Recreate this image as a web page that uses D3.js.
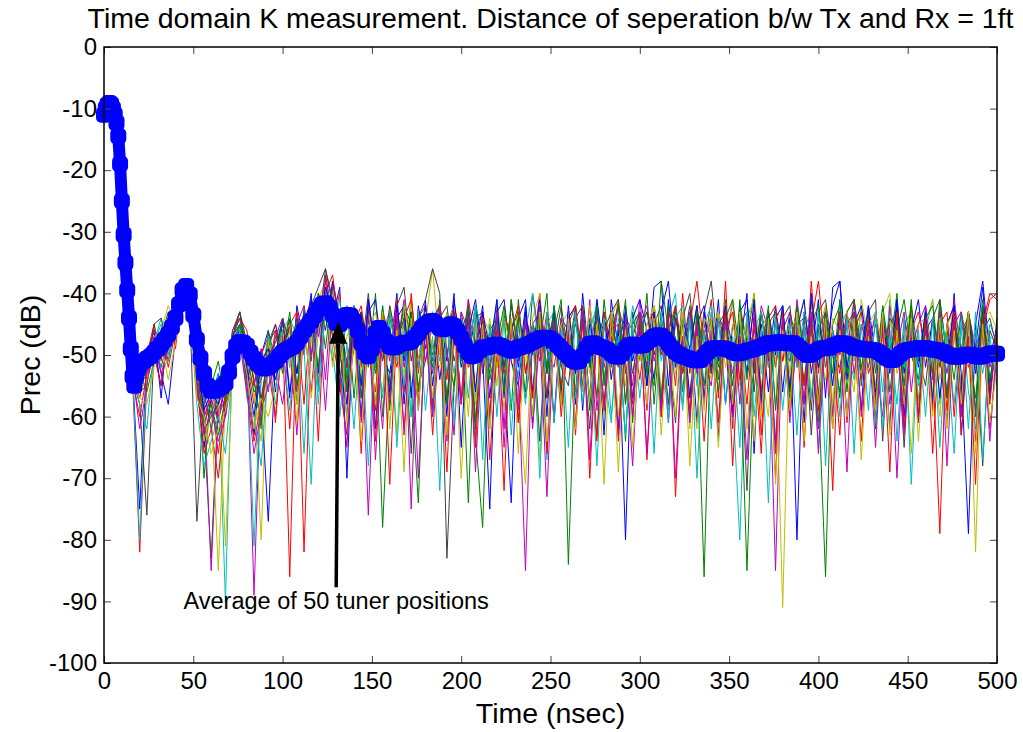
<!DOCTYPE html>
<html><head><meta charset="utf-8">
<script src="https://cdn.jsdelivr.net/npm/d3@7/dist/d3.min.js"></script>
<style>html,body{margin:0;padding:0;background:#fff;}svg{display:block;}</style>
</head><body>
<script>
// ---------- data ----------
const titleText = "Time domain K measurement. Distance of seperation b/w Tx and Rx = 1ft";
const xLabel = "Time (nsec)";
const yLabel = "Prec (dB)";
const xTicks = [0,50,100,150,200,250,300,350,400,450,500];
const yTicks = [0,-10,-20,-30,-40,-50,-60,-70,-80,-90,-100];
const annotationText = "Average of 50 tuner positions";
const arrowFrom = [130, -87.7];
const arrowTo = [131.2, -44.6];

// trace sampling: t=16, then 20..496 every 4 ns, then 500
const traceStart = 16, traceStep = 4, traceEnd = 500;
const traceColors = ["#0000ff","#008000","#ff0000","#00bfbf","#bf00bf","#bfbf00","#404040",
                     "#0000ff","#008000","#ff0000","#00bfbf","#bf00bf","#bfbf00","#404040",
                     "#0000ff","#008000","#ff0000","#00bfbf","#bf00bf","#bfbf00"];

const tr01 = [-53,
 -75,-50,-46,-57,-44,-43,-38,-40,-49,-58,
 -55,-61,-54,-47,-45,-53,-63,-50,-46,-56,
 -44,-57,-42,-48,-40,-53,-37,-44,-39,-70,
 -42,-55,-41,-62,-43,-50,-40,-58,-44,-52,
 -41,-59,-44,-51,-40,-65,-43,-49,-42,-57,
 -45,-53,-74,-44,-41,-56,-43,-60,-42,-51,
 -44,-58,-40,-52,-45,-63,-41,-49,-43,-57,
 -46,-52,-39,-38,-55,-42,-50,-44,-61,-43,
 -53,-41,-58,-45,-49,-40,-66,-43,-51,-42,
 -56,-44,-80,-43,-50,-41,-57,-39,-38,-54,
 -44,-59,-42,-50,-45,-62,-41,-53,-43,-58,
 -42,-51,-44,-57,-40,-63,-45,-49,-39,-55,
 -44];
const tr02 = [-52,
 -56,-55,-45,-50,-48,-42,-38,-39,-53,-62,
 -83,-57,-55,-47,-43,-49,-54,-61,-48,-46,
 -53,-44,-58,-42,-51,-40,-49,-39,-56,-42,
 -57,-43,-52,-40,-60,-44,-49,-42,-55,-74,
 -43,-51,-41,-57,-44,-50,-42,-63,-78,-45,
 -52,-43,-59,-41,-53,-45,-48,-40,-61,-44,
 -50,-42,-55,-44,-57,-41,-52,-45,-64,-43,
 -51,-40,-58,-44,-49,-42,-56,-43,-50,-86,
 -44,-54,-41,-60,-43,-48,-40,-57,-45,-52,
 -42,-59,-44,-51,-41,-56,-86,-45,-42,-53,
 -41,-55,-43,-62,-45,-49,-40,-58,-44,-51,
 -43,-57,-41,-50,-46,-60,-43,-52,-41,-56,
 -47];
const tr03 = [-54,
 -82,-54,-50,-46,-52,-46,-38,-41,-52,-60,
 -57,-66,-56,-49,-45,-51,-58,-50,-47,-61,
 -46,-86,-43,-50,-41,-55,-37,-45,-40,-56,
 -45,-52,-42,-64,-44,-51,-41,-56,-40,-53,
 -43,-58,-42,-50,-44,-57,-41,-48,-45,-60,
 -42,-53,-45,-61,-43,-50,-40,-57,-44,-52,
 -46,-56,-42,-51,-64,-44,-49,-41,-58,-45,
 -43,-59,-42,-50,-45,-55,-40,-53,-44,-49,
 -41,-57,-38,-62,-44,-51,-42,-56,-43,-52,
 -45,-50,-42,-58,-38,-53,-44,-49,-63,-43,
 -41,-54,-45,-60,-43,-50,-46,-57,-42,-61,
 -44,-51,-79,-45,-42,-56,-43,-50,-46,-41,
 -40];
const tr04 = [-53,
 -80,-52,-48,-44,-50,-46,-38,-40,-51,-57,
 -60,-55,-90,-47,-44,-55,-50,-58,-53,-47,
 -45,-52,-44,-49,-42,-56,-39,-46,-41,-53,
 -43,-51,-46,-58,-42,-50,-44,-55,-41,-52,
 -44,-60,-43,-53,-46,-49,-42,-57,-45,-51,
 -41,-52,-44,-58,-46,-50,-43,-67,-42,-55,
 -45,-57,-43,-49,-41,-53,-61,-44,-50,-42,
 -47,-54,-42,-51,-44,-40,-58,-43,-55,-45,
 -42,-50,-45,-57,-80,-44,-41,-53,-43,-58,
 -45,-51,-42,-55,-44,-50,-43,-60,-41,-49,
 -54,-42,-48,-44,-56,-41,-64,-45,-43,-55,
 -46,-41,-58,-45,-50,-43,-56,-62,-44,-47,
 -48];
const tr05 = [-52,
 -54,-51,-46,-49,-44,-48,-38,-41,-49,-57,
 -85,-59,-56,-46,-44,-50,-89,-53,-48,-45,
 -52,-45,-56,-43,-50,-41,-54,-38,-46,-51,
 -44,-57,-42,-50,-62,-43,-49,-41,-75,-44,
 -42,-53,-45,-58,-43,-50,-41,-56,-44,-52,
 -43,-62,-41,-51,-45,-57,-42,-49,-60,-44,
 -52,-43,-56,-41,-59,-45,-50,-42,-47,-55,
 -41,-52,-44,-58,-42,-49,-45,-57,-43,-51,
 -55,-43,-49,-41,-58,-45,-52,-42,-46,-85,
 -43,-55,-41,-50,-44,-57,-42,-60,-45,-49,
 -41,-53,-44,-51,-60,-42,-49,-43,-56,-45,
 -42,-54,-45,-57,-41,-50,-44,-59,-42,-52,
 -48];
const tr06 = [-53,
 -56,-51,-51,-46,-49,-45,-39,-40,-52,-59,
 -58,-85,-57,-50,-46,-52,-56,-80,-47,-53,
 -46,-51,-58,-43,-47,-41,-38,-44,-50,-43,
 -47,-55,-43,-50,-56,-42,-48,-53,-41,-57,
 -45,-36,-50,-43,-56,-45,-60,-43,-52,-44,
 -55,-42,-51,-57,-71,-44,-40,-53,-45,-58,
 -43,-50,-56,-42,-48,-60,-44,-41,-55,-47,
 -44,-51,-42,-56,-45,-49,-43,-62,-42,-50,
 -54,-43,-47,-41,-55,-46,-40,-52,-60,-43,
 -44,-53,-45,-41,-57,-46,-42,-58,-44,-50,
 -56,-41,-47,-55,-43,-40,-53,-48,-42,-58,
 -45,-41,-54,-48,-42,-57,-45,-82,-44,-43,
 -46];
const tr07 = [-54,
 -58,-76,-49,-46,-51,-44,-38,-42,-77,-56,
 -62,-56,-54,-46,-43,-48,-52,-58,-49,-45,
 -50,-44,-53,-47,-41,-46,-36,-42,-50,-55,
 -42,-50,-40,-52,-45,-57,-42,-39,-51,-44,
 -41,-36,-40,-83,-55,-43,-50,-42,-53,-46,
 -44,-52,-42,-49,-56,-40,-48,-57,-43,-52,
 -55,-44,-42,-52,-46,-58,-43,-41,-53,-47,
 -43,-55,-45,-42,-50,-61,-44,-40,-52,-43,
 -38,-50,-44,-55,-42,-48,-56,-43,-49,-65,
 -44,-42,-52,-45,-59,-43,-41,-50,-56,-44,
 -47,-53,-43,-41,-64,-45,-43,-52,-42,-50,
 -55,-44,-41,-51,-45,-57,-43,-49,-68,-46,
 -49];
const tr08 = [-52,
 -52,-49,-48,-53,-58,-47,-39,-42,-55,-65,
 -57,-53,-60,-51,-47,-54,-50,-57,-77,-50,
 -44,-56,-49,-43,-45,-41,-46,-38,-44,-52,
 -46,-55,-43,-41,-50,-53,-44,-42,-57,-42,
 -49,-43,-54,-45,-42,-52,-46,-41,-50,-75,
 -43,-41,-51,-55,-43,-50,-41,-53,-45,-56,
 -44,-42,-59,-45,-50,-43,-54,-46,-80,-44,
 -41,-46,-54,-43,-38,-51,-44,-57,-45,-42,
 -52,-44,-49,-60,-43,-41,-53,-45,-56,-44,
 -42,-56,-46,-41,-53,-45,-50,-42,-38,-52,
 -45,-42,-50,-56,-43,-51,-42,-58,-46,-41,
 -52,-44,-57,-45,-42,-53,-79,-45,-38,-50,
 -46];
const tr09 = [-53,
 -53,-56,-51,-47,-43,-46,-38,-40,-50,-70,
 -55,-51,-58,-54,-45,-48,-54,-62,-46,-51,
 -44,-48,-53,-43,-47,-40,-43,-51,-45,-56,
 -49,-43,-51,-46,-78,-53,-49,-42,-45,-55,
 -51,-44,-42,-50,-55,-45,-74,-44,-43,-54,
 -48,-42,-50,-44,-57,-49,-43,-53,-46,-41,
 -84,-50,-44,-52,-43,-54,-46,-42,-58,-45,
 -43,-50,-55,-38,-46,-43,-53,-49,-42,-51,
 -46,-56,-44,-41,-50,-85,-51,-43,-52,-45,
 -51,-43,-48,-54,-45,-42,-52,-46,-57,-43,
 -41,-49,-44,-53,-42,-56,-46,-41,-50,-54,
 -44,-42,-52,-46,-54,-43,-49,-57,-44,-51,
 -50];
const tr10 = [-52,
 -57,-50,-45,-51,-44,-49,-39,-41,-51,-63,
 -54,-60,-57,-47,-44,-46,-55,-49,-53,-46,
 -51,-45,-43,-82,-46,-42,-40,-37,-46,-52,
 -45,-42,-50,-56,-43,-47,-52,-44,-41,-51,
 -44,-49,-45,-54,-42,-47,-52,-48,-43,-67,
 -50,-44,-46,-42,-53,-45,-51,-43,-49,-55,
 -45,-42,-51,-47,-63,-43,-49,-52,-44,-46,
 -54,-45,-43,-50,-46,-42,-53,-45,-38,-49,
 -44,-51,-46,-43,-54,-45,-49,-66,-44,-42,
 -51,-46,-44,-55,-45,-38,-50,-46,-53,-44,
 -46,-43,-53,-49,-44,-51,-45,-62,-46,-43,
 -49,-53,-45,-43,-60,-46,-44,-51,-45,-40,
 -41];
const tr11 = [-53,
 -54,-53,-48,-45,-50,-43,-38,-41,-50,-58,
 -59,-53,-56,-49,-45,-50,-81,-53,-47,-51,
 -46,-44,-47,-49,-71,-43,-40,-42,-49,-45,
 -42,-50,-44,-52,-46,-43,-51,-45,-60,-44,
 -46,-43,-51,-45,-53,-44,-49,-42,-46,-62,
 -45,-49,-58,-53,-46,-40,-50,-45,-43,-51,
 -49,-44,-53,-46,-42,-51,-45,-49,-63,-44,
 -46,-43,-50,-45,-59,-44,-42,-51,-46,-49,
 -43,-64,-45,-49,-44,-51,-46,-43,-52,-45,
 -49,-45,-52,-43,-46,-65,-44,-50,-45,-43,
 -51,-46,-44,-61,-43,-49,-45,-52,-44,-50,
 -45,-51,-43,-49,-66,-44,-50,-46,-53,-45,
 -48];
const tr12 = [-52,
 -51,-54,-50,-48,-45,-47,-38,-40,-49,-60,
 -57,-61,-54,-48,-47,-53,-55,-49,-56,-47,
 -44,-49,-45,-42,-50,-44,-38,-45,-46,-58,
 -47,-45,-76,-46,-44,-50,-43,-52,-46,-44,
 -51,-45,-42,-49,-63,-43,-46,-51,-45,-49,
 -44,-50,-46,-54,-85,-45,-43,-49,-52,-44,
 -46,-53,-44,-49,-43,-52,-46,-45,-51,-68,
 -45,-42,-51,-46,-61,-44,-49,-43,-53,-45,
 -50,-44,-46,-53,-45,-43,-51,-49,-44,-66,
 -46,-43,-51,-45,-49,-62,-44,-46,-50,-43,
 -53,-45,-49,-43,-51,-46,-70,-44,-49,-45,
 -44,-50,-46,-53,-45,-43,-52,-49,-45,-64,
 -47];
const tr13 = [-53,
 -56,-54,-47,-46,-42,-45,-38,-41,-52,-64,
 -59,-56,-81,-52,-46,-48,-57,-64,-48,-52,
 -47,-45,-50,-44,-48,-41,-40,-46,-51,-47,
 -44,-53,-46,-43,-50,-45,-63,-42,-49,-51,
 -43,-49,-52,-45,-42,-50,-45,-60,-44,-46,
 -52,-44,-49,-43,-51,-46,-67,-44,-49,-45,
 -43,-50,-45,-53,-49,-44,-46,-69,-45,-49,
 -51,-45,-42,-49,-44,-53,-46,-50,-62,-44,
 -46,-43,-52,-45,-50,-44,-64,-46,-43,-49,
 -91,-46,-44,-51,-45,-49,-54,-44,-46,-43,
 -50,-53,-45,-43,-49,-44,-51,-46,-66,-45,
 -44,-49,-60,-45,-43,-50,-46,-52,-44,-49,
 -50];
const tr14 = [-53,
 -55,-53,-45,-44,-49,-46,-39,-42,-56,-62,
 -60,-58,-55,-47,-43,-51,-52,-57,-50,-48,
 -45,-50,-44,-48,-42,-39,-36,-41,-49,-60,
 -46,-43,-49,-45,-51,-42,-48,-44,-66,-43,
 -45,-50,-44,-42,-51,-46,-43,-61,-45,-49,
 -44,-52,-46,-43,-50,-45,-64,-44,-49,-42,
 -50,-45,-49,-62,-44,-46,-43,-51,-45,-53,
 -46,-43,-50,-45,-58,-44,-49,-42,-51,-46,
 -53,-45,-43,-49,-46,-72,-44,-50,-45,-43,
 -49,-51,-45,-44,-63,-46,-43,-50,-52,-45,
 -43,-49,-52,-45,-50,-44,-46,-65,-45,-51,
 -46,-44,-50,-61,-45,-49,-43,-51,-46,-44,
 -49];
const tr15 = [-53,
 -54,-52,-49,-55,-46,-44,-38,-41,-51,-59,
 -56,-58,-53,-48,-46,-52,-60,-51,-49,-54,
 -48,-46,-53,-45,-41,-47,-39,-43,-53,-58,
 -44,-60,-41,-49,-45,-56,-42,-51,-43,-59,
 -42,-55,-45,-60,-41,-50,-44,-56,-43,-49,
 -41,-57,-44,-52,-42,-61,-45,-49,-43,-58,
 -42,-53,-45,-57,-41,-50,-44,-62,-42,-51,
 -45,-55,-43,-60,-41,-52,-44,-49,-42,-57,
 -44,-51,-42,-59,-45,-53,-41,-58,-43,-50,
 -42,-56,-44,-61,-40,-52,-45,-55,-43,-60,
 -45,-50,-42,-57,-44,-53,-41,-60,-45,-52,
 -43,-58,-45,-51,-42,-59,-44,-53,-43,-57,
 -46];
const tr16 = [-52,
 -55,-51,-48,-52,-47,-45,-38,-40,-53,-61,
 -58,-63,-57,-48,-45,-50,-56,-54,-50,-49,
 -50,-43,-55,-47,-44,-52,-40,-47,-44,-54,
 -43,-57,-45,-53,-42,-59,-44,-50,-43,-56,
 -45,-52,-43,-58,-44,-51,-42,-62,-46,-53,
 -43,-56,-41,-50,-45,-60,-43,-52,-42,-57,
 -46,-51,-43,-59,-42,-55,-45,-50,-41,-61,
 -43,-53,-45,-57,-42,-50,-44,-60,-43,-55,
 -45,-52,-43,-58,-41,-54,-46,-50,-42,-59,
 -44,-57,-42,-50,-45,-61,-43,-53,-41,-56,
 -43,-52,-46,-58,-42,-50,-44,-55,-41,-60,
 -45,-53,-42,-57,-44,-51,-43,-60,-42,-54,
 -47];
const tr17 = [-54,
 -60,-53,-50,-55,-47,-46,-39,-41,-55,-66,
 -62,-70,-58,-50,-47,-55,-64,-58,-52,-60,
 -47,-62,-45,-58,-43,-64,-40,-47,-55,-63,
 -44,-66,-46,-59,-43,-71,-45,-62,-47,-58,
 -44,-63,-46,-69,-43,-58,-47,-65,-44,-60,
 -46,-72,-44,-61,-47,-57,-43,-66,-45,-60,
 -47,-63,-44,-70,-46,-59,-43,-64,-47,-58,
 -44,-67,-46,-60,-43,-73,-47,-59,-45,-64,
 -46,-61,-43,-68,-47,-58,-44,-63,-46,-70,
 -43,-60,-47,-65,-44,-59,-46,-72,-43,-61,
 -47,-64,-44,-58,-46,-69,-43,-62,-47,-60,
 -44,-66,-46,-59,-43,-63,-47,-71,-44,-58,
 -45];
const tr18 = [-53,
 -58,-62,-49,-52,-51,-45,-39,-42,-58,-68,
 -64,-60,-66,-52,-46,-57,-60,-68,-51,-58,
 -49,-59,-46,-66,-44,-58,-42,-49,-60,-48,
 -62,-45,-68,-47,-57,-44,-65,-46,-60,-43,
 -59,-47,-72,-44,-61,-46,-57,-43,-67,-45,
 -60,-44,-63,-47,-58,-45,-70,-43,-61,-46,
 -65,-43,-58,-46,-68,-44,-60,-47,-63,-45,
 -57,-46,-66,-43,-61,-47,-59,-44,-70,-46,
 -62,-44,-58,-47,-65,-43,-60,-46,-74,-44,
 -59,-47,-63,-45,-57,-43,-68,-46,-60,-44,
 -66,-45,-59,-43,-62,-47,-58,-44,-71,-46,
 -60,-44,-65,-47,-58,-45,-62,-43,-67,-47,
 -55];
const tr19 = [-53,
 -62,-55,-47,-53,-49,-47,-39,-41,-54,-63,
 -59,-64,-60,-53,-48,-56,-66,-59,-55,-52,
 -58,-48,-63,-45,-56,-43,-59,-41,-52,-65,
 -45,-61,-44,-67,-46,-58,-43,-63,-45,-70,
 -46,-60,-43,-64,-47,-58,-44,-69,-46,-61,
 -43,-65,-46,-59,-44,-62,-47,-73,-45,-58,
 -46,-61,-43,-67,-45,-58,-47,-63,-44,-60,
 -43,-66,-46,-59,-44,-70,-47,-61,-45,-58,
 -46,-63,-44,-60,-47,-67,-43,-59,-46,-64,
 -44,-61,-46,-58,-43,-66,-47,-62,-45,-69,
 -43,-60,-46,-65,-44,-58,-47,-63,-45,-61,
 -46,-59,-43,-68,-45,-60,-44,-64,-46,-62,
 -50];
const tr20 = [-54,
 -57,-58,-52,-48,-54,-48,-39,-42,-57,-60,
 -66,-62,-59,-54,-47,-53,-62,-57,-60,-55,
 -50,-46,-61,-44,-57,-46,-41,-52,-43,-61,
 -47,-64,-45,-58,-43,-62,-46,-69,-44,-59,
 -43,-57,-46,-63,-44,-70,-47,-58,-45,-62,
 -47,-59,-44,-66,-46,-60,-43,-64,-47,-58,
 -44,-62,-47,-57,-45,-71,-43,-60,-46,-65,
 -47,-58,-44,-63,-46,-60,-43,-68,-47,-59,
 -44,-65,-46,-58,-43,-62,-47,-60,-44,-71,
 -46,-59,-43,-64,-47,-58,-44,-62,-46,-60,
 -44,-67,-47,-59,-43,-63,-46,-58,-44,-64,
 -47,-60,-44,-62,-46,-58,-43,-66,-45,-61,
 -52];
const traces = [tr01,tr02,tr03,tr04,tr05,tr06,tr07,tr08,tr09,tr10,
                tr11,tr12,tr13,tr14,tr15,tr16,tr17,tr18,tr19,tr20];

// average curve: t = 0..20 every 1 ns, then 22..500 every 2 ns
const avgEarly = [-11,-10,-9.4,-9.1,-9.3,-10,-11,-12.3,-14.5,-19,-25,-30.5,-35,-39.5,-44,-49,-53.5,-55,-53.5,-52.3,-51.6];
const avgLate = [
 -51,-50.6,-50.2,-49.6,-49,-48.3,-47.5,-46.6,-45.5,-44,
 -41.8,-39.5,-38.8,-40.2,-43.5,-47.5,-50.5,-53,-55,-55.8,
 -55.8,-55.5,-55.2,-54.6,-52.8,-50.2,-48.6,-47.9,-48,-48.5,
 -49.6,-50.6,-51.4,-52,-52.2,-52,-51.5,-51,-50.2,-49.6,
 -49.2,-48.9,-48.6,-48,-47,-46,-45.3,-44.5,-43.6,-42.6,
 -41.8,-41.6,-42.2,-43.5,-44.8,-45,-44,-43.5,-43.6,-44.5,
 -46,-48,-49.6,-50.2,-49,-46.5,-45.6,-46.5,-47.8,-48.6,
 -48.8,-48.6,-48.2,-48,-48,-47.8,-47.2,-46.5,-45.6,-45,
 -44.6,-44.5,-45,-45.6,-45.8,-45.4,-45,-45.3,-46.2,-47.3,
 -48.5,-49.6,-50.2,-50,-49.3,-48.8,-48.8,-48.6,-48.4,-48.3,
 -48.5,-48.8,-49.1,-49.3,-49.1,-48.8,-48.6,-48.5,-48.2,-47.9,
 -47.6,-47.3,-47.2,-47.2,-47.4,-47.8,-48.4,-49,-49.6,-50.2,
 -50.8,-51.1,-51,-50.2,-49,-48.2,-48.1,-48.4,-48.7,-48.9,
 -49.2,-49.7,-50.2,-50.3,-49.8,-49,-48.4,-48.3,-48.4,-48.5,
 -48.4,-48,-47.5,-47,-46.8,-46.9,-47.4,-48.2,-48.9,-49.5,
 -49.9,-50.2,-50.4,-50.6,-50.8,-50.9,-50.8,-50.2,-49.5,-49,
 -48.9,-48.9,-48.9,-49,-49.2,-49.5,-49.7,-49.7,-49.5,-49.3,
 -49.2,-49,-48.8,-48.6,-48.3,-48.1,-48.1,-48,-47.9,-48,
 -48.1,-48.1,-48.1,-48.4,-49,-49.6,-50,-49.9,-49.5,-49.1,
 -48.9,-48.9,-48.8,-48.5,-48.3,-48.1,-48.1,-48.2,-48.5,-48.8,
 -48.9,-49,-49.1,-49.1,-49.2,-49.3,-49.6,-50,-50.5,-50.8,
 -50.8,-50.4,-49.8,-49.4,-49.2,-49.1,-49,-48.9,-48.9,-48.9,
 -49,-49.1,-49.2,-49.3,-49.5,-49.8,-50.1,-50.3,-50.3,-50.2,
 -50,-49.9,-50,-50.2,-50.3,-50.2,-50,-49.8,-49.7,-49.8];

// ---------- drawing ----------
const W = 1023, H = 732;
const plot = {left:104, right:997, top:47, bottom:663};
const FONT = "Arial, 'Liberation Sans', Helvetica, sans-serif";

const svg = d3.select("body").append("svg").attr("width", W).attr("height", H)
  .style("font-family", FONT);
svg.append("rect").attr("width", W).attr("height", H).attr("fill", "#fff");

const x = d3.scaleLinear().domain([0,500]).range([plot.left, plot.right]);
const y = d3.scaleLinear().domain([-100,0]).range([plot.bottom, plot.top]);

svg.append("clipPath").attr("id","clip").append("rect")
  .attr("x", plot.left).attr("y", plot.top)
  .attr("width", plot.right-plot.left).attr("height", plot.bottom-plot.top);

const traceT = [traceStart].concat(d3.range(20, traceEnd - 3, traceStep), [traceEnd]);

const gTr = svg.append("g").attr("clip-path","url(#clip)");
const line = d3.line().x((d,i)=>x(traceT[i])).y(d=>y(d));
traces.forEach((tr,k)=>{
  gTr.append("path").attr("d", line(tr)).attr("fill","none")
    .attr("stroke", traceColors[k]).attr("stroke-width", 1).attr("stroke-linejoin","round");
});

// average
const avgT = d3.range(0, 21, 1).concat(d3.range(22, 501, 2));
const avgV = avgEarly.concat(avgLate);
const avgData = avgV.map((v,i)=>[avgT[i], v]);
svg.append("path").attr("d", d3.line().x(d=>x(d[0])).y(d=>y(d[1]))(avgData))
  .attr("fill","none").attr("stroke","#0000ff").attr("stroke-width",12)
  .attr("stroke-linejoin","round");
svg.append("g").selectAll("rect").data(avgData).join("rect")
  .attr("x", d=>x(d[0])-8).attr("y", d=>y(d[1])-8).attr("width", 16).attr("height", 16)
  .attr("rx", 5).attr("fill","#0000ff");

// axes (box with inward ticks)
const tickStroke = "#444";
const fmt = d => String(d);
const xAxB = svg.append("g").attr("transform",`translate(0,${plot.bottom})`)
  .call(d3.axisBottom(x).tickValues(xTicks).tickSizeInner(-7).tickSizeOuter(0).tickPadding(9).tickFormat(fmt));
const xAxT = svg.append("g").attr("transform",`translate(0,${plot.top})`)
  .call(d3.axisTop(x).tickValues(xTicks).tickSizeInner(-7).tickSizeOuter(0).tickFormat(""));
const yAxL = svg.append("g").attr("transform",`translate(${plot.left},0)`)
  .call(d3.axisLeft(y).tickValues(yTicks).tickSizeInner(-7).tickSizeOuter(0).tickPadding(7).tickFormat(fmt));
const yAxR = svg.append("g").attr("transform",`translate(${plot.right},0)`)
  .call(d3.axisRight(y).tickValues(yTicks).tickSizeInner(-7).tickSizeOuter(0).tickFormat(""));
[xAxB,xAxT,yAxL,yAxR].forEach(g=>{
  g.select(".domain").remove();
  g.selectAll(".tick line").attr("stroke", tickStroke);
  g.selectAll(".tick text").attr("fill","#000").style("font-size","24px").style("font-family",FONT);
});
svg.append("rect").attr("x",plot.left).attr("y",plot.top)
  .attr("width",plot.right-plot.left).attr("height",plot.bottom-plot.top)
  .attr("fill","none").attr("stroke","#000").attr("stroke-width",1.5);

// arrow annotation
const ax0 = x(arrowFrom[0]), ay0 = y(arrowFrom[1]), ax1 = x(arrowTo[0]), ay1 = y(arrowTo[1]);
const ang = Math.atan2(ay1-ay0, ax1-ax0);
const headL = 22, headW = 9;
const bx = ax1 - headL*Math.cos(ang), by = ay1 - headL*Math.sin(ang);
svg.append("line").attr("x1",ax0).attr("y1",ay0).attr("x2",bx).attr("y2",by)
  .attr("stroke","#000").attr("stroke-width",3.5);
svg.append("path").attr("d", d3.line()([
  [ax1, ay1],
  [bx + headW*Math.sin(ang), by - headW*Math.cos(ang)],
  [bx - headW*Math.sin(ang), by + headW*Math.cos(ang)]
])+"Z").attr("fill","#000");
svg.append("text").attr("x", x(130)).attr("y", 609).attr("text-anchor","middle")
  .style("font-size","23.5px").text(annotationText);

// titles
svg.append("text").attr("x",(plot.left+plot.right)/2).attr("y",28).attr("text-anchor","middle")
  .style("font-size","28.5px").text(titleText);
svg.append("text").attr("x",(plot.left+plot.right)/2).attr("y",723).attr("text-anchor","middle")
  .style("font-size","28.5px").text(xLabel);
svg.append("text").attr("transform",`translate(40,${(plot.top+plot.bottom)/2}) rotate(-90)`)
  .attr("text-anchor","middle").style("font-size","28.5px").text(yLabel);
</script>
</body></html>
